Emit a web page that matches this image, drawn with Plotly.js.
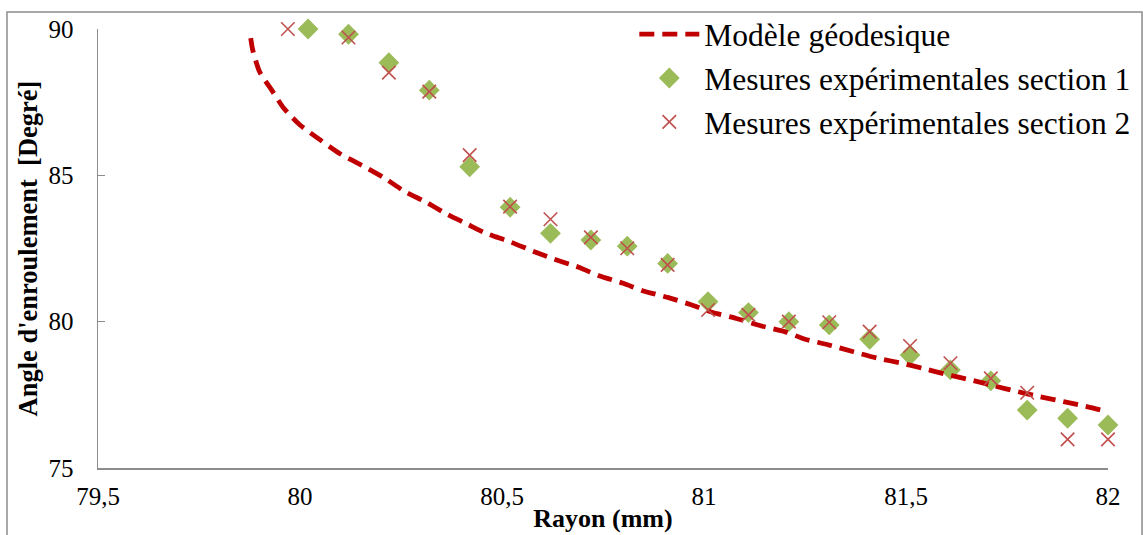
<!DOCTYPE html>
<html>
<head>
<meta charset="utf-8">
<script src="https://cdn.plot.ly/plotly-3.0.1.min.js"></script>
<style>html,body{margin:0;padding:0;background:#fff;}#chart{width:1143px;height:535px;}</style>
</head>
<body>
<div id="chart"></div>
<script>
// Modèle géodesique
var modelR = [79.878, 79.883, 79.90, 79.93, 79.96, 80.00, 80.05, 80.10, 80.16, 80.21, 80.26, 80.31, 80.36, 80.41, 80.46, 80.52, 80.58, 80.63, 80.69, 80.74, 80.80, 80.85, 80.91, 80.97, 81.02, 81.08, 81.14, 81.20, 81.25, 81.31, 81.37, 81.43, 81.49, 81.54, 81.60, 81.66, 81.72, 81.77, 81.83, 81.89, 81.95, 82.00];
var modelA = [89.69, 89.28, 88.54, 87.91, 87.29, 86.72, 86.21, 85.73, 85.29, 84.90, 84.44, 84.10, 83.70, 83.36, 83.02, 82.73, 82.39, 82.13, 81.86, 81.57, 81.31, 81.05, 80.83, 80.57, 80.32, 80.11, 79.86, 79.66, 79.40, 79.20, 78.97, 78.75, 78.58, 78.41, 78.20, 78.01, 77.80, 77.63, 77.44, 77.27, 77.09, 76.92];

// Mesures expérimentales section 1
var s1R = [80.02, 80.12, 80.22, 80.32, 80.42, 80.52, 80.62, 80.72, 80.81, 80.91, 81.01, 81.11, 81.21, 81.31, 81.41, 81.51, 81.61, 81.71, 81.80, 81.90, 82.00];
var s1A = [90.0, 89.82, 88.85, 87.91, 85.29, 83.91, 83.02, 82.79, 82.58, 81.99, 80.68, 80.31, 80.0, 79.89, 79.40, 78.86, 78.35, 77.98, 76.98, 76.70, 76.47];

// Mesures expérimentales section 2
var s2R = [79.97, 80.12, 80.22, 80.32, 80.42, 80.52, 80.62, 80.72, 80.81, 80.91, 81.01, 81.11, 81.21, 81.31, 81.41, 81.51, 81.61, 81.71, 81.80, 81.90, 82.00];
var s2A = [90.0, 89.71, 88.51, 87.86, 85.69, 83.93, 83.50, 82.88, 82.51, 81.94, 80.40, 80.23, 80.0, 79.98, 79.66, 79.17, 78.58, 78.06, 77.57, 75.98, 75.98];

var xTickVals = [79.5, 80, 80.5, 81, 81.5, 82];
var xTickText = ['79,5', '80', '80,5', '81', '81,5', '82'];
var yTickVals = [75, 80, 85, 90];
var yTickText = ['75', '80', '85', '90'];

var serif = '"Liberation Serif", "Times New Roman", Times, serif';

var traces = [
  {
    x: s1R, y: s1A, type: 'scatter', mode: 'markers', cliponaxis: false,
    name: 'Mesures expérimentales section 1', legendrank: 2,
    marker: {symbol: 'diamond', size: 16, color: '#9BBB59'}
  },
  {
    x: modelR, y: modelA, type: 'scatter', mode: 'lines',
    name: 'Modèle géodesique', legendrank: 1,
    line: {color: '#C00000', width: 4.8, dash: '15px,8px', shape: 'spline', smoothing: 0.6}
  },
  {
    x: s2R, y: s2A, type: 'scatter', mode: 'markers', cliponaxis: false,
    name: 'Mesures expérimentales section 2', legendrank: 3,
    marker: {symbol: 'x-thin', size: 13.5, color: '#C0504D', line: {color: '#C0504D', width: 1.6}}
  }
];

var layout = {
  width: 1143, height: 535,
  margin: {l: 98, r: 35, t: 29, b: 67, autoexpand: false},
  paper_bgcolor: '#ffffff', plot_bgcolor: '#ffffff',
  font: {family: serif, color: '#000000', size: 25},
  showlegend: true,
  legend: {
    x: 0.531, y: 1.05, xanchor: 'left', yanchor: 'top',
    bgcolor: 'rgba(0,0,0,0)', borderwidth: 0,
    font: {family: serif, size: 31.5, color: '#000000'},
    itemwidth: 60, tracegroupgap: 0
  },
  xaxis: {
    range: [79.5, 82], tickvals: xTickVals, ticktext: xTickText,
    showgrid: false, zeroline: false, showline: true,
    linecolor: '#8C8C8C', linewidth: 1.5, ticks: '',
    ticklabelstandoff: 5,
    tickfont: {family: serif, size: 25, color: '#000000', weight: 'normal'},
    title: {text: 'Rayon (mm)', font: {family: serif, size: 26, color: '#000000', weight: 'bold'}, standoff: 0}
  },
  yaxis: {
    range: [75, 90], tickvals: yTickVals, ticktext: yTickText,
    showgrid: false, zeroline: false, showline: true,
    linecolor: '#8C8C8C', linewidth: 1.5,
    ticks: 'inside', ticklen: 7, tickwidth: 1.5, tickcolor: '#8C8C8C',
    ticklabelstandoff: 18,
    tickfont: {family: serif, size: 25, color: '#000000', weight: 'normal'},
    title: {text: 'Angle d\'enroulement\u00a0\u00a0[Degré]', font: {family: serif, size: 26.5, color: '#000000', weight: 'bold'}, standoff: 3}
  },
  shapes: [
    {type: 'rect', xref: 'paper', yref: 'paper', x0: -0.0901, x1: 1.0337, y0: -0.3, y1: 1.0387,
     line: {color: '#8C8C8C', width: 1.5}, fillcolor: 'rgba(0,0,0,0)', layer: 'below'}
  ]
};

Plotly.newPlot('chart', traces, layout, {staticPlot: true, displayModeBar: false});
</script>
</body>
</html>
